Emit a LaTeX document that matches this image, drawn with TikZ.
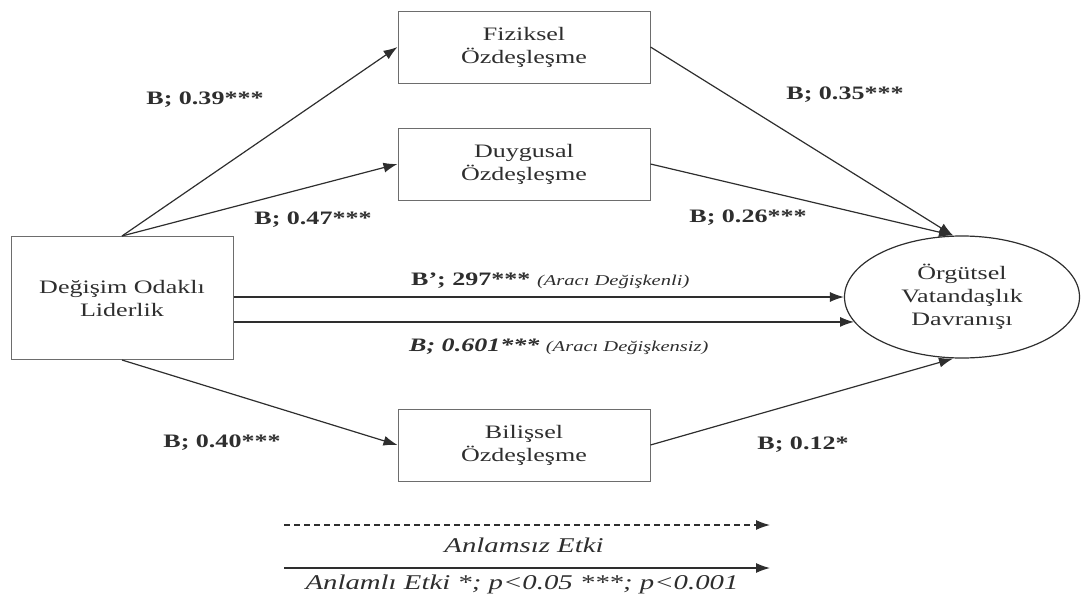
\documentclass[tikz,border=0pt]{standalone}
\usepackage{fontspec}
\setmainfont{Liberation Serif}[FakeStretch=1.37]
\usetikzlibrary{arrows.meta,shapes.geometric}
\definecolor{ink}{HTML}{2E2E2E}
\tikzset{
  box/.style={draw=ink!70, line width=1pt, minimum width=252pt, minimum height=72pt,
    inner sep=0pt, align=center, text=ink, font=\fontsize{19}{23}\selectfont},
  arr/.style={draw=ink, line width=1.2pt, -{Latex[length=14pt,width=10pt]}},
  lbl/.style={text=ink, font=\fontsize{19}{23}\selectfont\bfseries, inner sep=0pt},
  leg/.style={text=ink, font=\fontsize{21}{25}\selectfont\itshape, inner sep=0pt},
}
\newcommand{\smallit}[1]{{\fontsize{15}{18}\selectfont\mdseries\itshape #1}}
\begin{document}
\begin{tikzpicture}[x=1pt,y=-1pt]
\useasboundingbox (0,0) rectangle (1084,597);
% nodes
\node[box, minimum width=222pt, minimum height=123pt] (deg) at (122,298) {Değişim Odaklı\\Liderlik};
\node[box] (fiz) at (524,47) {Fiziksel\\Özdeşleşme};
\node[box] (duy) at (524,164) {Duygusal\\Özdeşleşme};
\node[box] (bil) at (524,445) {Bilişsel\\Özdeşleşme};
\node[draw=ink, line width=1.2pt, ellipse, minimum width=235pt, minimum height=122pt, inner sep=0pt,
  align=center, text=ink, font=\fontsize{19}{23}\selectfont] (org) at (962,297) {Örgütsel\\Vatandaşlık\\Davranışı};
% connectors
\draw[arr] (deg.north) -- (fiz.west);
\draw[arr] (deg.north) -- (duy.west);
\draw[arr] (deg.south) -- (bil.west);
\draw[arr] (fiz.east) -- ([xshift=-9pt]org.north);
\draw[arr] (duy.east) -- ([xshift=-9pt]org.north);
\draw[arr] (bil.east) -- ([xshift=-9pt]org.south);
\draw[arr] (deg.east |- org.west) -- (org.west);
\draw[arr] (deg.east |- org.193) -- (org.193);
% labels
\node[lbl] (l1) at (205,100) {B; 0.39***};
\node[lbl] (l2) at (313,220) {B; 0.47***};
\node[lbl] (l3) at (845,95) {B; 0.35***};
\node[lbl] (l4) at (748,218) {B; 0.26***};
\node[lbl] (l5) at (222,443) {B; 0.40***};
\node[lbl] (l6) at (803,445) {B; 0.12*};
\node[lbl, anchor=base west] (l7) at (411,285) {B’; 297*** \smallit{(Aracı Değişkenli)}};
\node[lbl, anchor=base west, font=\fontsize{19}{23}\selectfont\bfseries\itshape] (l8) at (409,351) {B; 0.601*** \smallit{(Aracı Değişkensiz)}};
% legend
\coordinate (d1) at (284,525);
\coordinate (d2) at (770,525);
\coordinate (s1) at (284,568);
\coordinate (s2) at (770,568);
\draw[arr, dash pattern=on 6pt off 4pt] (d1) -- (d2);
\draw[arr] (s1) -- (s2);
\node[leg] (t1) at (524,545) {Anlamsız Etki};
\node[leg] (t2) at (522,584) {Anlamlı Etki *; p<0.05 ***; p<0.001};
\end{tikzpicture}
\end{document}
